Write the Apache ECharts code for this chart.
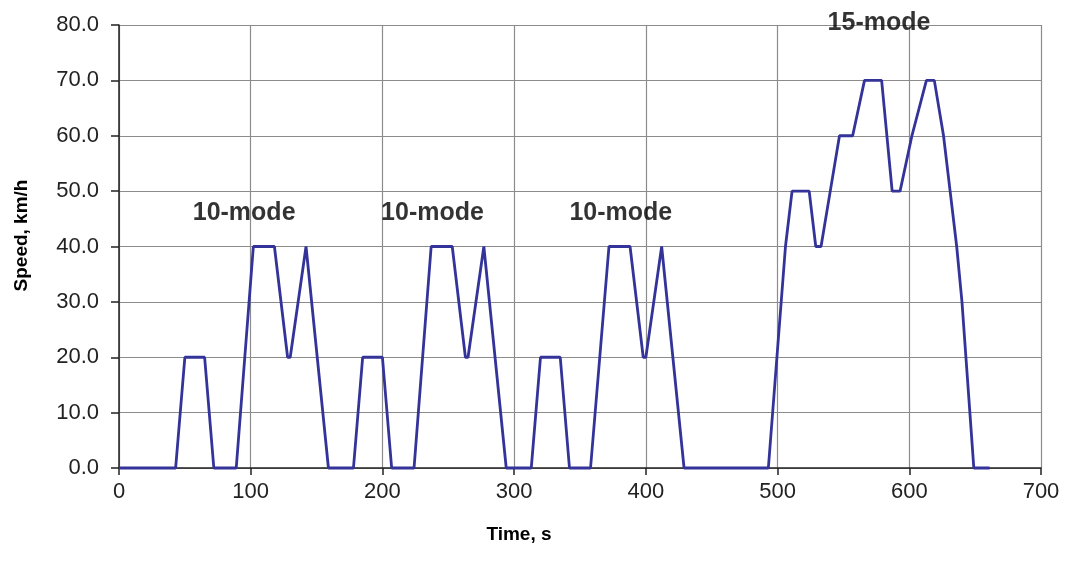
<!DOCTYPE html>
<html>
<head>
<meta charset="utf-8">
<script src="https://cdn.jsdelivr.net/npm/echarts@6/dist/echarts.min.js"></script>
<style>
html,body{margin:0;padding:0;background:#fff;}
#chart{width:1065px;height:563px;}
</style>
</head>
<body>
<div id="chart"></div>
<script>
// Time (s) and speed (km/h) vertices of the 10-15 mode driving cycle
const timeS = [
  0, 43, 50, 65, 72, 89, 102, 118, 128, 130, 142, 159,
  178, 185, 200, 207, 224, 237, 253, 263, 265, 277, 294,
  313, 320, 335, 342, 358, 372, 388, 398, 400, 412, 429,
  493, 506, 511, 524, 529, 533, 540, 547, 557, 566, 579, 587, 593, 602, 613, 619,
  626, 631, 636, 640, 643, 646, 649, 661
];
const speedKmh = [
  0, 0, 20, 20, 0, 0, 40, 40, 20, 20, 40, 0,
  0, 20, 20, 0, 0, 40, 40, 20, 20, 40, 0,
  0, 20, 20, 0, 0, 40, 40, 20, 20, 40, 0,
  0, 40, 50, 50, 40, 40, 50, 60, 60, 70, 70, 50, 50, 60, 70, 70,
  60, 50, 40, 30, 20, 10, 0, 0
];
// Annotations
const annoText = ['10-mode', '10-mode', '10-mode', '15-mode'];
const annoTime = [95, 238, 381, 577];
const annoSpeed = [46, 46, 46, 80.4];

const xTicks = [0, 100, 200, 300, 400, 500, 600, 700];
const yTicks = [0, 10, 20, 30, 40, 50, 60, 70, 80];

const FONT = "'Liberation Sans', Arial, sans-serif";
const chart = echarts.init(document.getElementById('chart'), null, {renderer: 'canvas'});
const lineData = timeS.map((t, i) => [t, speedKmh[i]]);
const annoData = annoText.map((s, i) => ({name: s, value: [annoTime[i], annoSpeed[i]]}));

chart.setOption({
  animation: false,
  backgroundColor: '#ffffff',
  grid: {left: 119, right: 24, top: 25, bottom: 95, containLabel: false},
  xAxis: {
    type: 'value', min: xTicks[0], max: xTicks[xTicks.length - 1], interval: 100,
    name: 'Time, s', nameLocation: 'middle', nameGap: 57,
    nameTextStyle: {fontFamily: FONT, fontWeight: 'bold', fontSize: 19, color: '#000',
      padding: [0, 122, 0, 0]},
    axisLine: {show: true, onZero: false, lineStyle: {color: '#222', width: 1.5}},
    axisTick: {show: true, length: 7, lineStyle: {color: '#222', width: 1.5}},
    axisLabel: {fontFamily: FONT, fontSize: 22, color: '#222', margin: 13},
    splitLine: {show: true, lineStyle: {color: '#8c8c8c', width: 1.2}}
  },
  yAxis: {
    type: 'value', min: yTicks[0], max: yTicks[yTicks.length - 1], interval: 10,
    name: 'Speed, km/h', nameLocation: 'middle', nameGap: 88, nameRotate: 90,
    nameTextStyle: {fontFamily: FONT, fontWeight: 'bold', fontSize: 19, color: '#000',
      padding: [0, 0, 0, 22]},
    axisLine: {show: true, lineStyle: {color: '#222', width: 1.5}},
    axisTick: {show: true, length: 8, lineStyle: {color: '#222', width: 1.5}},
    axisLabel: {fontFamily: FONT, fontSize: 22, color: '#222', margin: 20,
      formatter: v => v.toFixed(1)},
    splitLine: {show: true, lineStyle: {color: '#8c8c8c', width: 1.2}}
  },
  series: [
    {
      type: 'line', data: lineData, showSymbol: false, symbol: 'none',
      lineStyle: {color: '#333399', width: 2.8}, clip: false, z: 3
    },
    {
      type: 'scatter', data: annoData, symbolSize: 0, z: 4, silent: true, clip: false,
      label: {show: true, position: 'inside', formatter: p => p.name,
        fontFamily: FONT, fontWeight: 'bold', fontSize: 25, color: '#000'}
    }
  ]
});
</script>
</body>
</html>
